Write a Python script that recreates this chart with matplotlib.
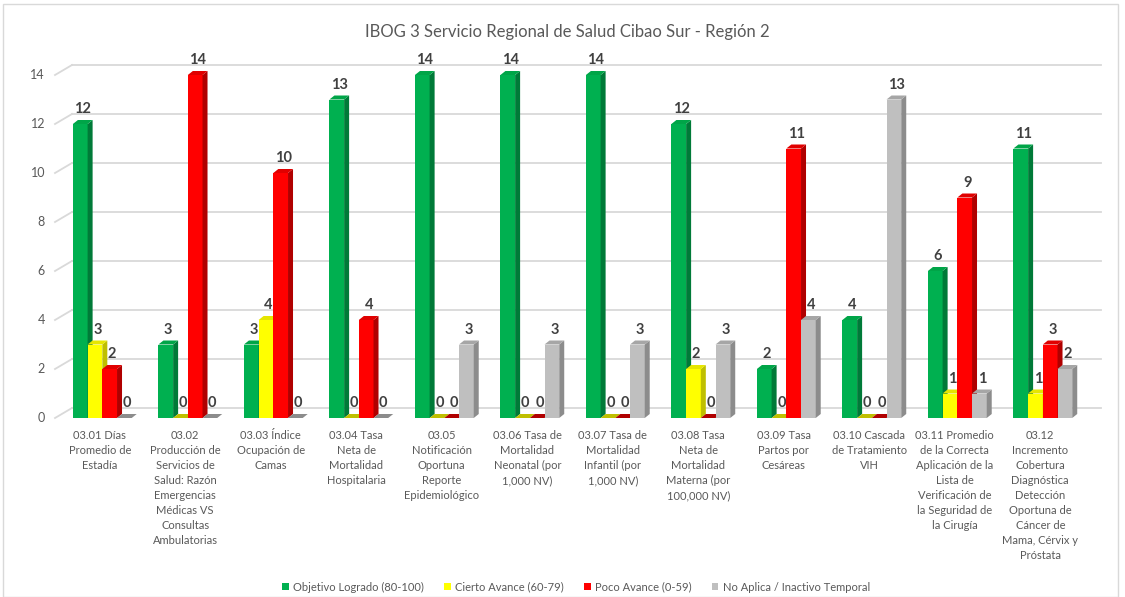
import matplotlib
matplotlib.use("Agg")
import matplotlib.pyplot as plt
from matplotlib.patches import Polygon, Rectangle, Patch
import numpy as np

plt.rcParams['font.family'] = ['Lato', 'DejaVu Sans']

# ---------------- data ----------------
title = "IBOG 3 Servicio Regional de Salud Cibao Sur - Región 2"
categories = [
    "03.01 Días\nPromedio de\nEstadía",
    "03.02\nProducción de\nServicios de\nSalud: Razón\nEmergencias\nMédicas VS\nConsultas\nAmbulatorias",
    "03.03 Índice\nOcupación de\nCamas",
    "03.04 Tasa\nNeta de\nMortalidad\nHospitalaria",
    "03.05\nNotificación\nOportuna\nReporte\nEpidemiológico",
    "03.06 Tasa de\nMortalidad\nNeonatal (por\n1,000 NV)",
    "03.07 Tasa de\nMortalidad\nInfantil (por\n1,000 NV)",
    "03.08 Tasa\nNeta de\nMortalidad\nMaterna (por\n100,000 NV)",
    "03.09 Tasa\nPartos por\nCesáreas",
    "03.10 Cascada\nde Tratamiento\nVIH",
    "03.11 Promedio\nde la Correcta\nAplicación de la\nLista de\nVerificación de\nla Seguridad de\nla Cirugía",
    "03.12\nIncremento\nCobertura\nDiagnóstica\nDetección\nOportuna de\nCáncer de\nMama, Cérvix y\nPróstata",
]
series_names = ["Objetivo Logrado (80-100)", "Cierto Avance (60-79)",
                "Poco Avance (0-59)", "No Aplica / Inactivo Temporal"]
objetivo_logrado = [12, 3, 3, 13, 14, 14, 14, 12, 2, 4, 6, 11]
cierto_avance = [3, 0, 4, 0, 0, 0, 0, 2, 0, 0, 1, 1]
poco_avance = [2, 14, 10, 4, 0, 0, 0, 0, 11, 0, 9, 3]
no_aplica = [0, 0, 0, 0, 3, 3, 3, 3, 4, 13, 1, 2]
y_ticks = [0, 2, 4, 6, 8, 10, 12, 14]

series = [objetivo_logrado, cierto_avance, poco_avance, no_aplica]
front_colors = ["#00B050", "#FFFF00", "#FF0000", "#BFBFBF"]
side_colors = ["#007A38", "#BFBF00", "#B00000", "#8C8C8C"]
top_colors = ["#00A548", "#E6E600", "#E00000", "#A6A6A6"]

# ---------------- layout ----------------
W, H = 1125, 597
fig = plt.figure(figsize=(W / 100, H / 100), dpi=100)
L_px, R_px = 57, 1083
B_px, T_px = 418, 75
ax = fig.add_axes([L_px / W, 1 - B_px / H, (R_px - L_px) / W, (B_px - T_px) / H])
n = len(categories)
ax.set_xlim(-0.5, n - 0.5)
ax.set_ylim(0, 14)
ax.axis('off')

sx = (R_px - L_px) / n      # px per category
sy = (B_px - T_px) / 14     # px per unit

# back wall gridlines (offset 15px right, 10px up)
gdx, gdy = 15 / sx, 10 / sy
grid_color = "#D9D9D9"
for t in y_ticks:
    ax.plot([-0.5 - 2 / sx, -0.5 + gdx], [t, t + gdy], color=grid_color, lw=1.3,
            clip_on=False, zorder=1)
    ax.plot([-0.5 + gdx, (1101 - L_px) / sx - 0.5], [t + gdy, t + gdy],
            color=grid_color, lw=1.3, clip_on=False, zorder=1)
    ax.text(-0.5 - 12 / sx, t, str(t), ha='right', va='center', fontsize=9,
            color="#595959")

# bars with 3D faces
bw = 0.172
ddx, ddy = 5 / sx, 4 / sy
x = np.arange(n)
for s, vals in enumerate(series):
    for i, v in enumerate(vals):
        x0 = x[i] - 2 * bw + s * bw + 0.03
        x1 = x0 + bw
        z = 2 + s
        if v > 0:
            ax.add_patch(Rectangle((x0, 0), bw, v, facecolor=front_colors[s],
                                   edgecolor='none', zorder=z, clip_on=False))
            ax.add_patch(Polygon([(x1, 0), (x1 + ddx, ddy), (x1 + ddx, v + ddy), (x1, v)],
                                 closed=True, facecolor=side_colors[s],
                                 edgecolor='none', zorder=z, clip_on=False))
        ax.add_patch(Polygon([(x0, v), (x1, v), (x1 + ddx, v + ddy), (x0 + ddx, v + ddy)],
                             closed=True, facecolor=top_colors[s] if v > 0 else side_colors[s],
                             edgecolor='none', zorder=z, clip_on=False))
        ax.annotate(str(v), xy=((x0 + x1) / 2 + ddx / 2, v), xytext=(0, 15 / 1.389),
                    textcoords='offset points', ha='center', va='center',
                    fontsize=10.5, fontweight='bold', color="#404040", zorder=10,
                    annotation_clip=False)

# category labels
for i, lab in enumerate(categories):
    ax.annotate(lab, xy=(x[i], 0), xytext=(0, -12 / 1.389), textcoords='offset points',
                ha='center', va='top', fontsize=8, color="#595959",
                linespacing=1.45, annotation_clip=False, multialignment='center')

# title
fig.text(0.504, 1 - 32 / H, title, ha='center', va='center', fontsize=12,
         color="#595959")

# legend
handles = [Patch(facecolor=c, edgecolor='none') for c in front_colors]
fig.legend(handles, series_names, loc='center', bbox_to_anchor=(576 / W, 1 - 587 / H),
           ncol=4, frameon=False, fontsize=8, handlelength=0.6, handleheight=0.6,
           handletextpad=0.4, columnspacing=1.8, labelcolor="#595959")

# chart border
fig.add_artist(Rectangle((3 / W, 0.5 / H), (1118 - 3) / W, (H - 4) / H,
                         transform=fig.transFigure, fill=False,
                         edgecolor="#D9D9D9", lw=1))

fig.savefig("out.png", dpi=100)
